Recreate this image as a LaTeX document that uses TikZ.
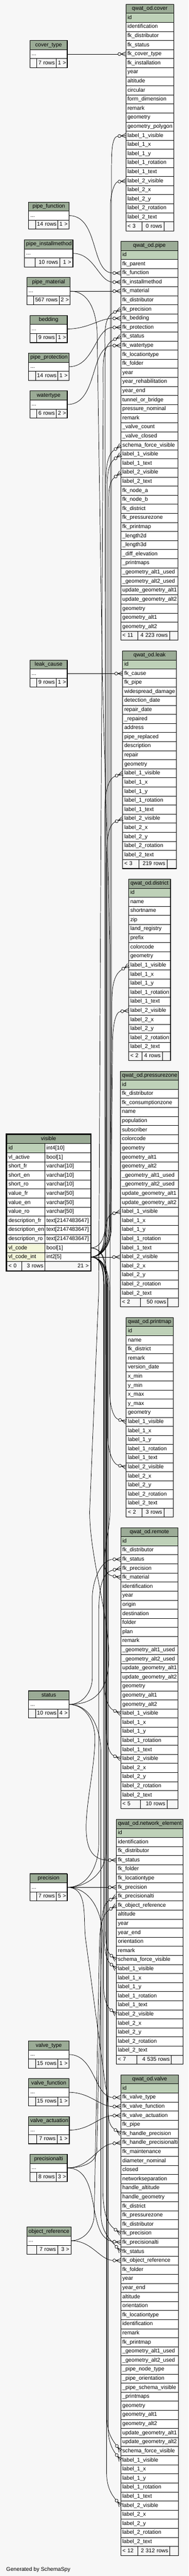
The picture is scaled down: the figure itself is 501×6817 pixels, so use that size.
\documentclass[tikz,border=0pt]{standalone}
\usepackage{fontspec}
\setmainfont{Liberation Sans}
\definecolor{bgcol}{HTML}{F7F7F7}
\definecolor{hdrcol}{HTML}{9BAB96}
\definecolor{pkcol}{HTML}{BED1B8}
\definecolor{idxcol}{HTML}{F4F7DA}

% crow's foot with open circle (zero or many)
\pgfdeclarearrow{
  name = crowodot,
  setup code = {
    \pgfarrowssettipend{0pt}
    \pgfarrowssetlineend{-21pt}
    \pgfarrowssetbackend{-22pt}
  },
  drawing code = {
    \pgfpathcircle{\pgfpoint{-17pt}{0pt}}{4pt}
    \pgfpathmoveto{\pgfpoint{-13pt}{0pt}}
    \pgfpathlineto{\pgfpoint{0pt}{5.5pt}}
    \pgfpathmoveto{\pgfpoint{-13pt}{0pt}}
    \pgfpathlineto{\pgfpoint{0pt}{0pt}}
    \pgfpathmoveto{\pgfpoint{-13pt}{0pt}}
    \pgfpathlineto{\pgfpoint{0pt}{-5.5pt}}
    \pgfusepathqstroke
  }
}

\newcount\rowcnt
% lookup table: name, left, top, width, title
\newcommand{\lookup}[5]{%
  \pgfmathsetmacro{\tw}{#4-9}%
  \node[hdr, text width=\tw pt] (#1) at (#2,-#3) {#5};
  \node[cell, text width=\tw pt] (#1-dots) at (#2,-#3-24) {...};
  \coordinate (#1-end) at (#2,-#3-48);
}
% object table: name, left, top, width, title, columns
\newcommand{\odtable}[6]{%
  \pgfmathsetmacro{\tw}{#4-9}%
  \node[hdr, text width=\tw pt] (#1) at (#2,-#3) {#5};
  \global\rowcnt=0
  \foreach \col in {#6} {%
    \global\advance\rowcnt by 1
    \edef\rr{\the\rowcnt}%
    \ifnum\rowcnt=1 \def\cf{pkcol}\else\def\cf{white}\fi
    \node[cell, fill=\cf, text width=\tw pt] (#1-\col) at (#2,-#3-24*\rr) {\col};
  }%
  \edef\rr{\the\rowcnt}%
  \coordinate (#1-end) at (#2,-#3-24*\rr-24);
}
% footer row: table, three widths, three texts
\newcommand{\tabfoot}[7]{%
  \pgfmathsetmacro{\wa}{#2-9}\pgfmathsetmacro{\wb}{#3-9}\pgfmathsetmacro{\wc}{#4-9}%
  \node[foot, text width=\wa pt] (#1-foot1) at (#1-end) {#5};
  \node[foot, text width=\wb pt, align=right] (#1-foot2) at (#1-foot1.north east) {#6};
  \node[foot, text width=\wc pt, align=right] (#1-foot3) at (#1-foot2.north east) {#7};
  \draw[line width=1.3pt] (#1.north west) rectangle (#1-foot3.south east);
}
\catcode`\_=12

\begin{document}
\begin{tikzpicture}[x=1pt, y=1pt,
  cell/.style={draw, line width=1pt, anchor=north west, outer sep=0pt,
    inner xsep=4.5pt, inner ysep=0pt, minimum height=24pt,
    text height=10.5pt, text depth=3pt, align=left, fill=white,
    font=\fontsize{14.5}{17}\selectfont},
  hdr/.style={cell, fill=hdrcol, align=center},
  foot/.style={cell, fill=bgcol},
  fk/.style={line width=1pt, -crowodot}]

  % Background
  \useasboundingbox (0,0) rectangle (501,-6817);
  \fill[bgcol] (0,0) rectangle (501,-6817);

  % Draw lookup tables
  \lookup{cover_type}{79.5}{107}{99}{cover_type}
  \tabfoot{cover_type}{18}{52}{29}{}{7~rows}{1~>}
  \lookup{pipe_function}{76}{534.5}{107}{pipe_function}
  \tabfoot{pipe_function}{18}{59.5}{29.5}{}{14~rows}{1~>}
  \lookup{pipe_installmethod}{65}{634.5}{128.5}{pipe_installmethod}
  \tabfoot{pipe_installmethod}{28.5}{65.5}{34.5}{}{10~rows}{1~>}
  \lookup{pipe_material}{71.5}{734.5}{115}{pipe_material}
  \tabfoot{pipe_material}{17.5}{68}{29.5}{}{567~rows}{2~>}
  \lookup{bedding}{79.5}{834.5}{99}{bedding}
  \tabfoot{bedding}{18}{52}{29}{}{9~rows}{1~>}
  \lookup{pipe_protection}{76}{934.5}{107}{pipe_protection}
  \tabfoot{pipe_protection}{18}{59.5}{29.5}{}{14~rows}{1~>}
  \lookup{watertype}{79.5}{1034.5}{99}{watertype}
  \tabfoot{watertype}{18}{52}{29}{}{6~rows}{2~>}
  \lookup{leak_cause}{79.5}{1746.5}{99}{leak_cause}
  \tabfoot{leak_cause}{18}{52}{29}{}{9~rows}{1~>}
  \lookup{status}{76}{4474.5}{107}{status}
  \tabfoot{status}{18}{59.5}{29.5}{}{10~rows}{4~>}
  \lookup{precision}{79.5}{4958.5}{99}{precision}
  \tabfoot{precision}{18}{52}{29}{}{7~rows}{5~>}
  \lookup{valve_type}{76}{5401}{107}{valve_type}
  \tabfoot{valve_type}{18}{59.5}{29.5}{}{15~rows}{1~>}
  \lookup{valve_function}{76}{5501}{107}{valve_function}
  \tabfoot{valve_function}{18}{59.5}{29.5}{}{15~rows}{1~>}
  \lookup{valve_actuation}{76}{5601}{108}{valve_actuation}
  \tabfoot{valve_actuation}{21.5}{54.5}{32}{}{7~rows}{1~>}
  \lookup{precisionalti}{79.5}{5701}{99}{precisionalti}
  \tabfoot{precisionalti}{18}{52}{29}{}{8~rows}{3~>}
  \lookup{object_reference}{71.5}{5893.5}{117}{object_reference}
  \tabfoot{object_reference}{25.5}{56}{35.5}{}{7~rows}{3~>}

  % Draw qwat_od tables
  \odtable{cover}{334}{11}{127}{qwat_od.cover}{id,identification,fk_distributor,fk_status,fk_cover_type,fk_installation,year,altitude,circular,form_dimension,remark,geometry,geometry_polygon,label_1_visible,label_1_x,label_1_y,label_1_rotation,label_1_text,label_2_visible,label_2_x,label_2_y,label_2_rotation,label_2_text}
  \tabfoot{cover}{43}{58}{26}{<~3}{0~rows}{}
  \odtable{pipe}{320.5}{638.5}{152}{qwat_od.pipe}{id,fk_parent,fk_function,fk_installmethod,fk_material,fk_distributor,fk_precision,fk_bedding,fk_protection,fk_status,fk_watertype,fk_locationtype,fk_folder,year,year_rehabilitation,year_end,tunnel_or_bridge,pressure_nominal,remark,_valve_count,_valve_closed,schema_force_visible,label_1_visible,label_1_text,label_2_visible,label_2_text,fk_node_a,fk_node_b,fk_district,fk_pressurezone,fk_printmap,_length2d,_length3d,_diff_elevation,_printmaps,_geometry_alt1_used,_geometry_alt2_used,update_geometry_alt1,update_geometry_alt2,geometry,geometry_alt1,geometry_alt2}
  \tabfoot{pipe}{45.5}{84}{22.5}{<~11}{4~223~rows}{}
  \odtable{leak}{325.5}{1722.5}{143}{qwat_od.leak}{id,fk_cause,fk_pipe,widespread_damage,detection_date,repair_date,_repaired,address,pipe_replaced,description,repair,geometry,label_1_visible,label_1_x,label_1_y,label_1_rotation,label_1_text,label_2_visible,label_2_x,label_2_y,label_2_rotation,label_2_text}
  \tabfoot{leak}{42.5}{75}{25.5}{<~3}{219~rows}{}
  \odtable{district}{341.5}{2326.5}{111}{qwat_od.district}{id,name,shortname,zip,land_registry,prefix,colorcode,geometry,label_1_visible,label_1_x,label_1_y,label_1_rotation,label_1_text,label_2_visible,label_2_x,label_2_y,label_2_rotation,label_2_text}
  \tabfoot{district}{35}{54.5}{21.5}{<~2}{4~rows}{}
  \odtable{pressurezone}{319.5}{2834.5}{154.5}{qwat_od.pressurezone}{id,fk_distributor,fk_consumptionzone,name,population,subscriber,colorcode,geometry,geometry_alt1,geometry_alt2,_geometry_alt1_used,_geometry_alt2_used,update_geometry_alt1,update_geometry_alt2,label_1_visible,label_1_x,label_1_y,label_1_rotation,label_1_text,label_2_visible,label_2_x,label_2_y,label_2_rotation,label_2_text}
  \tabfoot{pressurezone}{53.5}{72.5}{28.5}{<~2}{50~rows}{}
  \odtable{printmap}{335}{3486.5}{124.5}{qwat_od.printmap}{id,name,fk_district,remark,version_date,x_min,y_min,x_max,y_max,geometry,label_1_visible,label_1_x,label_1_y,label_1_rotation,label_1_text,label_2_visible,label_2_x,label_2_y,label_2_rotation,label_2_text}
  \tabfoot{printmap}{41.5}{58.5}{24.5}{<~2}{3~rows}{}
  \odtable{remote}{320.5}{4042.5}{152}{qwat_od.remote}{id,fk_distributor,fk_status,fk_precision,fk_material,identification,year,origin,destination,folder,plan,remark,_geometry_alt1_used,_geometry_alt2_used,update_geometry_alt1,update_geometry_alt2,geometry,geometry_alt1,geometry_alt2,label_1_visible,label_1_x,label_1_y,label_1_rotation,label_1_text,label_2_visible,label_2_x,label_2_y,label_2_rotation,label_2_text}
  \tabfoot{remote}{52}{70.5}{29.5}{<~5}{10~rows}{}
  \odtable{network_element}{308.5}{4814.5}{177.5}{qwat_od.network_element}{id,identification,fk_distributor,fk_status,fk_folder,fk_locationtype,fk_precision,fk_precisionalti,fk_object_reference,altitude,year,year_end,orientation,remark,schema_force_visible,label_1_visible,label_1_x,label_1_y,label_1_rotation,label_1_text,label_2_visible,label_2_x,label_2_y,label_2_rotation,label_2_text}
  \tabfoot{network_element}{54.5}{92}{31}{<~7}{4~535~rows}{}
  \odtable{valve}{320.5}{5490.5}{153.5}{qwat_od.valve}{id,fk_valve_type,fk_valve_function,fk_valve_actuation,fk_pipe,fk_handle_precision,fk_handle_precisionalti,fk_maintenance,diameter_nominal,closed,networkseparation,handle_altitude,handle_geometry,fk_district,fk_pressurezone,fk_distributor,fk_precision,fk_precisionalti,fk_status,fk_object_reference,fk_folder,year,year_end,altitude,orientation,fk_locationtype,identification,remark,fk_printmap,_geometry_alt1_used,_geometry_alt2_used,_pipe_node_type,_pipe_orientation,_pipe_schema_visible,_printmaps,geometry,geometry_alt1,geometry_alt2,update_geometry_alt1,update_geometry_alt2,schema_force_visible,label_1_visible,label_1_x,label_1_y,label_1_rotation,label_1_text,label_2_visible,label_2_x,label_2_y,label_2_rotation,label_2_text}
  \tabfoot{valve}{46}{84.5}{23}{<~12}{2~312~rows}{}

  % Draw visible table
  \node[hdr, text width=213pt] (visible) at (18,-3002.5) {visible};
  \foreach \col/\typ [count=\i] in {id/int4[10],vl_active/bool[1],short_fr/varchar[10],short_en/varchar[10],short_ro/varchar[10],value_fr/varchar[50],value_en/varchar[50],value_ro/varchar[50],description_fr/text[2147483647],description_en/text[2147483647],description_ro/text[2147483647],vl_code/bool[1],vl_code_int/int2[5]} {
    \ifnum\i=1 \def\cf{pkcol}\else\ifnum\i>11 \def\cf{idxcol}\else\def\cf{white}\fi\fi
    \node[cell, fill=\cf, text width=92pt] (visible-\col) at (18,-3002.5-24*\i) {\col};
    \node[cell, text width=112pt] (visible-\col-type) at (119,-3002.5-24*\i) {\typ};
  }
  \coordinate (visible-end) at (18,-3338.5);
  \tabfoot{visible}{39.5}{62}{120.5}{<~0}{3~rows}{21~>}
  \draw[line width=2.5pt] ([shift={(-1.5,1.5)}]visible.north west) rectangle ([shift={(1.5,-1.5)}]visible-foot3.south east);

  \node[anchor=base west, inner sep=0pt, font=\fontsize{14.5}{17}\selectfont] (credit) at (16.5,-6804) {Generated by SchemaSpy};

  % Draw keys from lookup tables
  \draw[fk] (cover_type-dots.east) -- (cover-fk_cover_type.west);
  \draw[fk] (pipe_function-dots.east) to[out=0,in=180] (pipe-fk_function.west);
  \draw[fk] (pipe_installmethod-dots.east) to[out=0,in=180] (pipe-fk_installmethod.west);
  \draw[fk] (pipe_material-dots.east) -- (pipe-fk_material.west);
  \draw[fk] (bedding-dots.east) to[out=0,in=180] (pipe-fk_bedding.west);
  \draw[fk] (pipe_protection-dots.east) to[out=0,in=180] (pipe-fk_protection.west);
  \draw[fk] (watertype-dots.east) to[out=0,in=180] (pipe-fk_watertype.west);
  \draw[fk] (leak_cause-dots.east) -- (leak-fk_cause.west);
  \draw[fk] (valve_type-dots.east) to[out=0,in=180] (valve-fk_valve_type.west);
  \draw[fk] (valve_function-dots.east) to[out=0,in=180] (valve-fk_valve_function.west);
  \draw[fk] (valve_actuation-dots.east) to[out=0,in=180] (valve-fk_valve_actuation.west);
  \draw[fk] (precisionalti-dots.east) to[out=0,in=185] (valve-fk_handle_precisionalti.west);
  \draw[fk] (precisionalti-dots.east) to[out=0,in=172] (valve-fk_precisionalti.west);
  \draw[fk] (object_reference-dots.east) to[out=0,in=178] (valve-fk_object_reference.west);
  \draw[fk] (precision-dots.east) -- (network_element-fk_precision.west);

  % Draw long keys from status, precision, precisionalti, object_reference, pipe_material
  \draw[fk] (pipe_material-dots.east) to[out=0,in=90] (258,-890) -- (272,-1800) -- (292,-2500) -- (292,-4000) to[out=-90,in=170] (remote-fk_material.west);
  \draw[fk] (status-dots.east) to[out=0,in=-90] (238,-4000) -- (262,-3420) -- (274,-1030) to[out=90,in=205] (pipe-fk_status.west);
  \draw[fk] (precision-dots.east) to[out=0,in=-90] (281,-4900) -- (279,-950) to[out=90,in=205] (pipe-fk_precision.west);
  \draw[fk] (status-dots.east) to[out=0,in=-90] (245,-4440) -- (245,-4230) to[out=90,in=180] (remote-fk_status.west);
  \draw[fk] (precision-dots.east) to[out=0,in=-90] (262,-4880) -- (262,-4290) to[out=90,in=192] (remote-fk_precision.west);
  \draw[fk] (status-dots.east) to[out=0,in=90] (252,-4600) to[out=-90,in=180] (network_element-fk_status.west);
  \draw[fk] (status-dots.east) to[out=0,in=90] (268,-4640) -- (268,-5860) to[out=-90,in=132] (valve-fk_status.west);
  \draw[fk] (precision-dots.east) to[out=0,in=97] (227,-5130) -- (280,-5520) to[out=-75,in=145] (valve-fk_handle_precision.west);
  \draw[fk] (precision-dots.east) to[out=0,in=90] (273,-5130) -- (273,-5790) to[out=-90,in=144] (valve-fk_precision.west);
  \draw[fk] (precisionalti-dots.east) to[out=0,in=-90] (257,-5690) -- (270,-5130) to[out=90,in=210] (network_element-fk_precisionalti.west);
  \draw[fk] (object_reference-dots.east) to[out=0,in=-90] (250,-5860) -- (264,-5150) to[out=90,in=212] (network_element-fk_object_reference.west);

  % Draw keys from visible
  \draw[fk] (visible-vl_code_int-type.east) to[out=0,in=-90] (296,-3245) -- (296,-450) to[out=90,in=183] (cover-label_1_visible.west);
  \draw[fk] (visible-vl_code_int-type.east) to[out=0,in=-90] (293,-3250) -- (293,-545) to[out=90,in=185] (cover-label_2_visible.west);
  \draw[fk] (visible-vl_code-type.east) to[out=0,in=-90] (281,-3225) -- (281,-1290) to[out=90,in=215] (pipe-schema_force_visible.west);
  \draw[fk] (visible-vl_code_int-type.east) to[out=0,in=-90] (285,-3235) -- (285,-1320) to[out=90,in=217] (pipe-label_1_visible.west);
  \draw[fk] (visible-vl_code_int-type.east) to[out=0,in=-90] (289,-3240) -- (289,-1360) to[out=90,in=218] (pipe-label_2_visible.west);
  \draw[fk] (visible-vl_code_int-type.east) to[out=0,in=-90] (278,-3225) -- (278,-2150) to[out=90,in=201] (leak-label_1_visible.west);
  \draw[fk] (visible-vl_code_int-type.east) to[out=0,in=-90] (283,-3230) -- (283,-2260) to[out=90,in=203] (leak-label_2_visible.west);
  \draw[fk] (visible-vl_code_int-type.east) to[out=0,in=-90] (291,-3240) -- (297,-2690) to[out=90,in=212] (district-label_1_visible.west);
  \draw[fk] (visible-vl_code_int-type.east) to[out=0,in=-90] (294,-3245) -- (299,-2760) to[out=90,in=185] (district-label_2_visible.west);
  \draw[fk] (visible-vl_code_int-type.east) to[out=0,in=194] (pressurezone-label_1_visible.west);
  \draw[fk] (visible-vl_code_int-type.east) -- (pressurezone-label_2_visible.west);
  \draw[fk] (visible-vl_code_int-type.east) to[out=0,in=90] (291,-3420) -- (291,-3680) to[out=-90,in=164] (printmap-label_1_visible.west);
  \draw[fk] (visible-vl_code_int-type.east) to[out=0,in=90] (286,-3415) -- (286,-3800) to[out=-90,in=167] (printmap-label_2_visible.west);
  \draw[fk] (visible-vl_code_int-type.east) to[out=0,in=90] (276,-3410) -- (276,-4450) to[out=-90,in=156] (remote-label_1_visible.west);
  \draw[fk] (visible-vl_code_int-type.east) to[out=0,in=90] (282,-3410) -- (282,-4575) to[out=-90,in=156] (remote-label_2_visible.west);
  \draw[fk] (visible-vl_code-type.east) to[out=0,in=90] (280,-3400) -- (280,-5110) to[out=-90,in=139] (network_element-schema_force_visible.west);
  \draw[fk] (visible-vl_code_int-type.east) to[out=0,in=90] (277,-3405) -- (277,-5135) to[out=-90,in=138] (network_element-label_1_visible.west);
  \draw[fk] (visible-vl_code_int-type.east) to[out=0,in=90] (275,-3400) -- (275,-5255) to[out=-90,in=140] (network_element-label_2_visible.west);
  \draw[fk] (visible-vl_code-type.east) to[out=0,in=90] (284,-3400) -- (284,-6400) to[out=-90,in=127] (valve-schema_force_visible.west);
  \draw[fk] (visible-vl_code_int-type.east) to[out=0,in=90] (287,-3410) -- (287,-6425) to[out=-90,in=128] (valve-label_1_visible.west);
  \draw[fk] (visible-vl_code_int-type.east) to[out=0,in=90] (283,-3405) -- (283,-6545) to[out=-90,in=130] (valve-label_2_visible.west);
\end{tikzpicture}
\end{document}
